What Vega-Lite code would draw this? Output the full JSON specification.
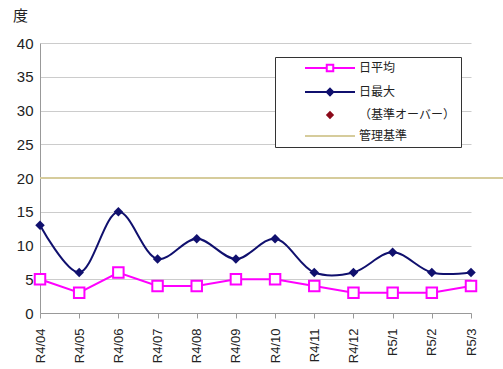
{
  "$schema": "https://vega.github.io/schema/vega-lite/v6.json",
  "width": 463,
  "height": 270,
  "autosize": {"type": "none"},
  "padding": {"left": 40, "top": 43, "right": 0, "bottom": 56},
  "background": "white",
  "config": {
    "view": {"stroke": null},
    "font": "Noto Sans CJK JP"
  },
  "data": {
    "values": [
      {"month": "R4/04", "series": "日平均", "value": 5},
      {"month": "R4/05", "series": "日平均", "value": 3},
      {"month": "R4/06", "series": "日平均", "value": 6},
      {"month": "R4/07", "series": "日平均", "value": 4},
      {"month": "R4/08", "series": "日平均", "value": 4},
      {"month": "R4/09", "series": "日平均", "value": 5},
      {"month": "R4/10", "series": "日平均", "value": 5},
      {"month": "R4/11", "series": "日平均", "value": 4},
      {"month": "R4/12", "series": "日平均", "value": 3},
      {"month": "R5/1", "series": "日平均", "value": 3},
      {"month": "R5/2", "series": "日平均", "value": 3},
      {"month": "R5/3", "series": "日平均", "value": 4},
      {"month": "R4/04", "series": "日最大", "value": 13},
      {"month": "R4/05", "series": "日最大", "value": 6},
      {"month": "R4/06", "series": "日最大", "value": 15},
      {"month": "R4/07", "series": "日最大", "value": 8},
      {"month": "R4/08", "series": "日最大", "value": 11},
      {"month": "R4/09", "series": "日最大", "value": 8},
      {"month": "R4/10", "series": "日最大", "value": 11},
      {"month": "R4/11", "series": "日最大", "value": 6},
      {"month": "R4/12", "series": "日最大", "value": 6},
      {"month": "R5/1", "series": "日最大", "value": 9},
      {"month": "R5/2", "series": "日最大", "value": 6},
      {"month": "R5/3", "series": "日最大", "value": 6}
    ]
  },
  "encoding": {
    "x": {
      "field": "month", "type": "ordinal", "sort": null,
      "scale": {"type": "point", "padding": 0, "range": [0, 431]},
      "axis": {
        "title": null, "labelAngle": -90, "labelFontSize": 13, "labelColor": "#222",
        "labelFont": "Liberation Sans", "labelPadding": 10,
        "domainColor": "#999", "tickColor": "#999", "tickSize": 5, "grid": false
      }
    },
    "y": {
      "field": "value", "type": "quantitative",
      "scale": {"domain": [0, 40], "nice": false},
      "axis": {
        "values": [0, 5, 10, 15, 20, 25, 30, 35, 40],
        "title": "度", "titleAngle": 0, "titleX": -20, "titleY": -28,
        "titleAlign": "center", "titleBaseline": "middle", "titleFontSize": 15,
        "titleFontWeight": "normal", "titleColor": "#222",
        "labelFontSize": 15, "labelColor": "#222", "labelFont": "Liberation Sans",
        "labelPadding": 7,
        "domainColor": "#999", "ticks": false,
        "gridColor": "#cccccc", "gridWidth": 1
      }
    }
  },
  "layer": [
    {
      "mark": {"type": "rule", "color": "#d6cc9c", "strokeWidth": 2},
      "encoding": {"y": {"datum": 20}, "x": {"value": 0}, "x2": {"value": 463}}
    },
    {
      "transform": [{"filter": "datum.series == '日最大'"}],
      "mark": {"type": "line", "interpolate": "catmull-rom", "color": "#10106e", "strokeWidth": 2}
    },
    {
      "transform": [{"filter": "datum.series == '日最大'"}],
      "mark": {"type": "point", "shape": "diamond", "filled": true, "color": "#10106e", "size": 90, "opacity": 1}
    },
    {
      "transform": [{"filter": "datum.series == '日平均'"}],
      "mark": {"type": "line", "color": "#ff00ff", "strokeWidth": 2}
    },
    {
      "transform": [{"filter": "datum.series == '日平均'"}],
      "mark": {"type": "point", "shape": "square", "filled": true, "fill": "white", "stroke": "#ff00ff", "strokeWidth": 2, "size": 110, "opacity": 1}
    },
    {
      "transform": [{"filter": "false"}],
      "mark": {"type": "point", "size": 100, "strokeWidth": 2, "opacity": 1},
      "encoding": {
        "shape": {
          "field": "series", "type": "nominal",
          "scale": {
            "domain": ["日平均", "日最大", "（基準オーバー）", "管理基準"],
            "range": [
              "M-5,0H-0.65M0.65,0H5M-0.65,-0.65H0.65V0.65H-0.65Z",
              "M-5,0H5M0,-0.65L0.65,0L0,0.65L-0.65,0Z",
              "M0,-0.55L0.55,0L0,0.55L-0.55,0Z",
              "M-5,0H5"
            ]
          },
          "legend": {
            "title": null, "orient": "none", "legendX": 235, "legendY": 14,
            "strokeColor": "#333", "fillColor": "white", "padding": 5,
            "labelFontSize": 12, "labelColor": "#222", "labelOffset": 23,
            "symbolSize": 100, "symbolOffset": 44, "rowPadding": 8, "symbolStrokeWidth": 2
          }
        },
        "stroke": {
          "field": "series", "type": "nominal",
          "scale": {
            "domain": ["日平均", "日最大", "（基準オーバー）", "管理基準"],
            "range": ["#ff00ff", "#10106e", "#8b0a1a", "#d6cc9c"]
          },
          "legend": {"title": null}
        },
        "fill": {
          "field": "series", "type": "nominal",
          "scale": {
            "domain": ["日平均", "日最大", "（基準オーバー）", "管理基準"],
            "range": ["white", "#10106e", "#8b0a1a", "transparent"]
          },
          "legend": {"title": null}
        }
      }
    }
  ]
}
